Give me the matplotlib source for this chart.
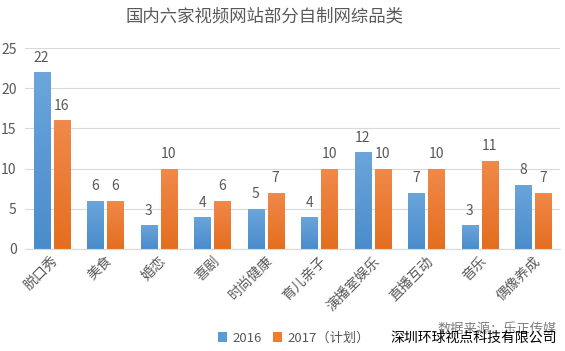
import matplotlib.pyplot as plt
import matplotlib.colors as mcolors
import numpy as np

plt.rcParams['font.family'] = ['Noto Sans CJK SC', 'DejaVu Sans']

categories = ["脱口秀", "美食", "婚恋", "喜剧", "时尚健康", "育儿亲子", "演播室娱乐", "直播互动", "音乐", "偶像养成"]
v2016 = [22, 6, 3, 4, 5, 4, 12, 7, 3, 8]
v2017 = [16, 6, 10, 6, 7, 10, 10, 10, 11, 7]

blue = "#5B9BD5"
orange = "#ED7D31"
gray = "#595959"

fig = plt.figure(figsize=(5.65, 3.51), dpi=100)
ax = fig.add_axes([0.044, 0.291, 0.947, 0.572])

x = np.arange(len(categories))
w = 0.3
b1 = ax.bar(x - 0.1875, v2016, w, color=blue, label="2016", zorder=2)
b2 = ax.bar(x + 0.1875, v2017, w, color=orange, label="2017（计划）", zorder=2)

# light gradient fill like the office chart (lighter at the top)
grads = {
    blue: mcolors.LinearSegmentedColormap.from_list("b", ["#4A8CCB", "#6BA5DB"]),
    orange: mcolors.LinearSegmentedColormap.from_list("o", ["#E46E1F", "#F0894A"]),
}
for bars, c in ((b1, blue), (b2, orange)):
    for r in bars:
        x0, h = r.get_x(), r.get_height()
        im = ax.imshow(np.linspace(0, 1, 50).reshape(-1, 1), cmap=grads[c], origin="lower",
                       extent=[x0, x0 + r.get_width(), 0, h], aspect="auto", zorder=2.1)
        im.set_clip_path(r)
        ax.text(x0 + r.get_width() / 2, h + 0.9, str(int(h)),
                ha="center", va="bottom", fontsize=10, color=gray)

ax.set_xlim(-0.5, len(categories) - 0.5)
ax.set_ylim(0, 25)
ax.set_yticks([0, 5, 10, 15, 20, 25])
ax.yaxis.grid(True, color="#D9D9D9", linewidth=0.8, zorder=0)
for s in ["top", "right", "left"]:
    ax.spines[s].set_visible(False)
ax.spines["bottom"].set_color("#D9D9D9")
ax.tick_params(axis="both", length=0, labelsize=10, colors=gray)
ax.tick_params(axis="y", pad=6)
ax.set_xticks(x)
ax.set_xticklabels(categories, rotation=45, ha="right", rotation_mode="anchor", fontsize=10)

fig.text(0.469, 0.952, "国内六家视频网站部分自制网综品类", ha="center", va="center", fontsize=12.5, color=gray)

fig.legend(handles=[b1, b2], loc="center", bbox_to_anchor=(0.52, 0.037), ncol=2, frameon=False,
           fontsize=9.5, handlelength=0.7, handleheight=0.7, handletextpad=0.4, columnspacing=0.8,
           labelcolor=gray)

fig.text(0.985, 0.06, "数据来源：乐正传媒", ha="right", va="center", fontsize=9.5, color="#7F7F7F")
fig.text(0.985, 0.037, "深圳环球视点科技有限公司", ha="right", va="center", fontsize=10, color="black")

fig.savefig("out.png", dpi=100)
